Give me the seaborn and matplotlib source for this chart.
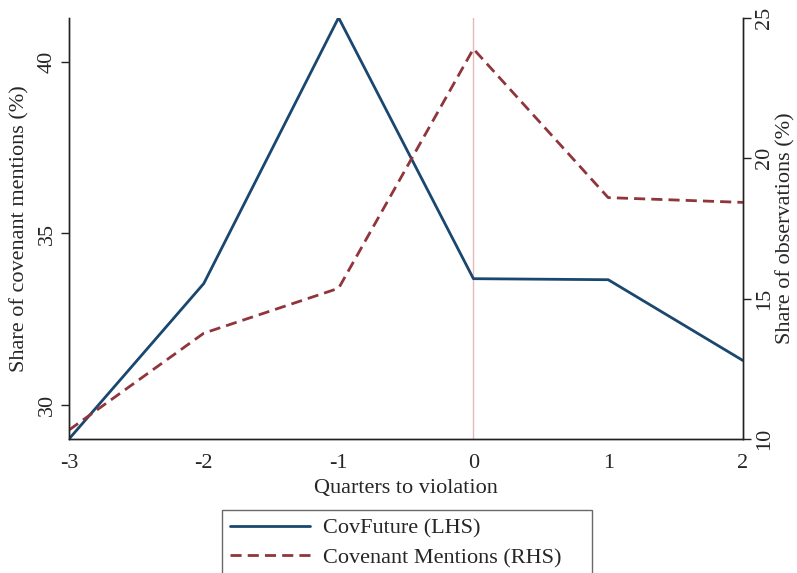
import matplotlib
matplotlib.use("Agg")
import matplotlib.pyplot as plt
import seaborn as sns
import pandas as pd

quarters = [-3, -2, -1, 0, 1, 2]
covfuture = [29.0, 33.54, 41.3, 33.68, 33.65, 31.29]
cov_mentions = [10.32, 13.77, 15.37, 23.9, 18.6, 18.43]
left_ticks = [30, 35, 40]
right_ticks = [10, 15, 20, 25]
x_ticks = [-3, -2, -1, 0, 1, 2]

sns.set_style("white")
plt.rcParams['font.family'] = ['Liberation Serif', 'DejaVu Serif']

blue = "#1a476f"
red = "#90353b"

fig = plt.figure(figsize=(7.97, 5.73), dpi=100)
ax = fig.add_axes([69/797, 1-439/573, (743-69)/797, (439-18)/573])
ax2 = ax.twinx()

df1 = pd.DataFrame({"q": quarters, "v": covfuture})
df2 = pd.DataFrame({"q": quarters, "v": cov_mentions})

ax.axvline(0, color="#e6b8bc", lw=1.0, zorder=0)
sns.lineplot(data=df1, x="q", y="v", ax=ax, color=blue, lw=2.0,
             label="CovFuture (LHS)", legend=False)
sns.lineplot(data=df2, x="q", y="v", ax=ax2, color=red, lw=2.0,
             dashes=False, label="Covenant Mentions (RHS)", legend=False)
ax2.lines[0].set_linestyle((0, (4, 2.2)))

ax.set_xlim(-3, 2)
ax.set_ylim(29.0, 41.29)
ax2.set_ylim(10, 25)
ax.set_xticks(x_ticks)
ax.set_xticklabels([str(t) for t in x_ticks])
ax.set_yticks(left_ticks)
ax.set_yticklabels([str(t) for t in left_ticks], rotation=90, va="center")
ax2.set_yticks(right_ticks)
ax2.set_yticklabels([str(t) for t in right_ticks], rotation=90, va="center")

for a in (ax, ax2):
    a.spines['top'].set_visible(False)
    for s in ['left', 'right', 'bottom']:
        a.spines[s].set_color("#222222")
        a.spines[s].set_linewidth(1.0)
    a.tick_params(axis='both', which='major', direction='out', length=6,
                  width=1.0, color="#222222", labelsize=16, pad=3)
ax.tick_params(axis='x', pad=5)

ax.set_xlabel("Quarters to violation", fontsize=16, labelpad=4)
ax.set_ylabel("Share of covenant mentions (%)", fontsize=16, labelpad=6)
ax2.set_ylabel("Share of observations (%)", fontsize=16, labelpad=1)

h1, l1 = ax.get_legend_handles_labels()
h2, l2 = ax2.get_legend_handles_labels()
leg = fig.legend(h1 + h2, l1 + l2, loc="upper left",
                 bbox_to_anchor=(222/797, 1-510/573, 370/797, 0.0),
                 mode="expand", fontsize=16, frameon=True, fancybox=False,
                 edgecolor="#444444", handlelength=3.6, borderpad=0.35,
                 labelspacing=0.42, handletextpad=0.6, borderaxespad=0.0)
leg.get_frame().set_linewidth(1.0)

fig.savefig("out.png", dpi=100)
